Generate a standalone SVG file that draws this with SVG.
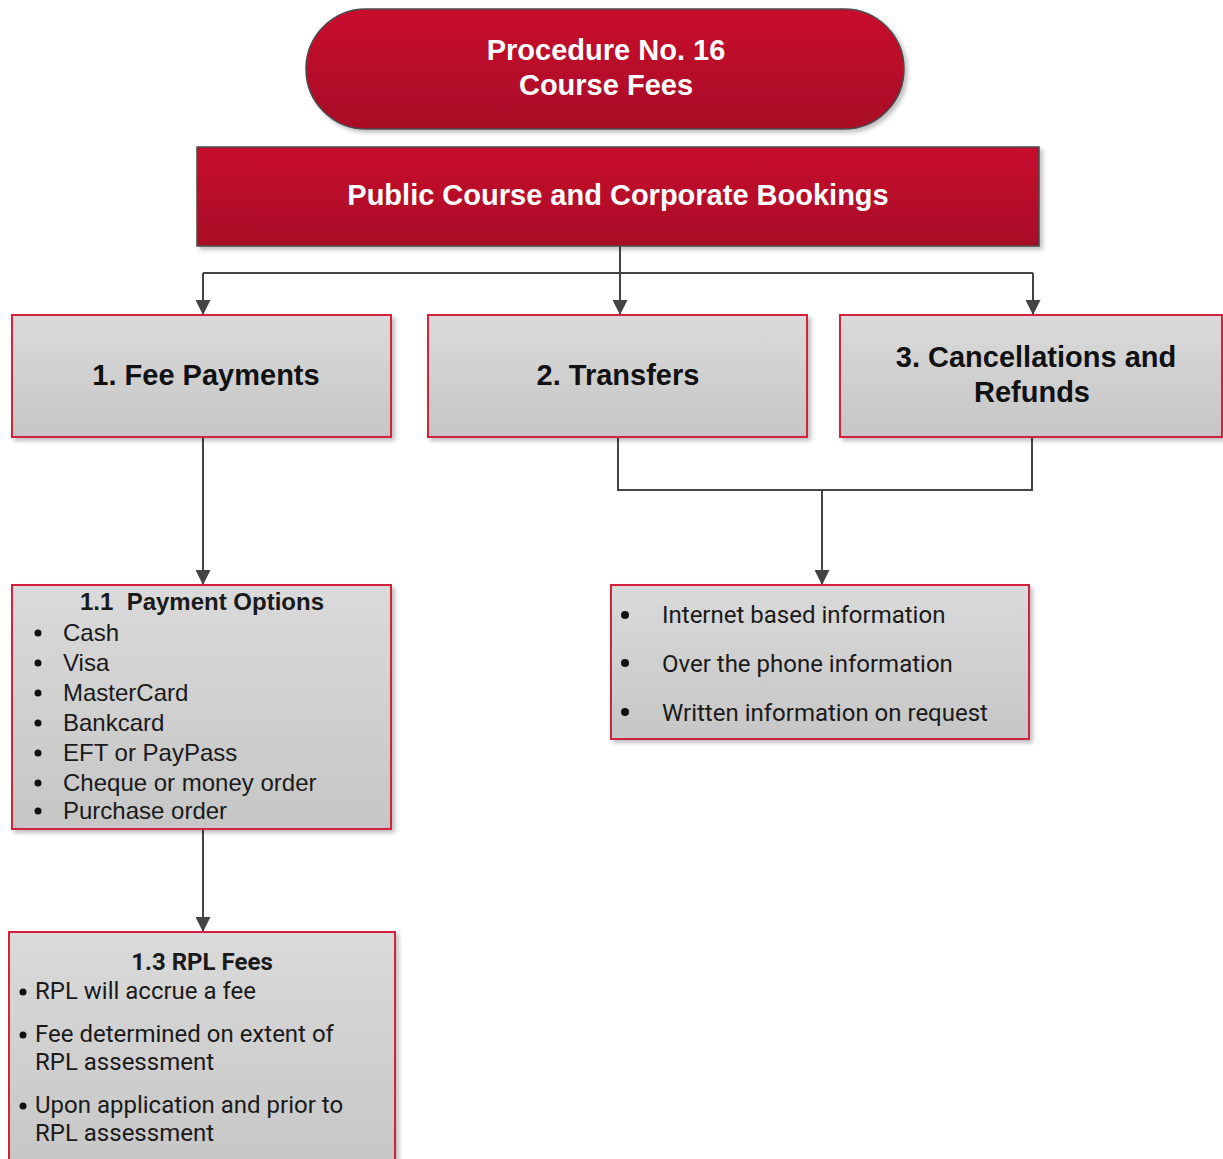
<svg xmlns="http://www.w3.org/2000/svg" width="1223" height="1159" viewBox="0 0 1223 1159">
<defs>
<linearGradient id="red" x1="0" y1="0" x2="0" y2="1">
<stop offset="0" stop-color="#c8102e"/>
<stop offset="1" stop-color="#a80d27"/>
</linearGradient>
<linearGradient id="gray" x1="0" y1="0" x2="0" y2="1">
<stop offset="0" stop-color="#dadada"/>
<stop offset="1" stop-color="#c6c6c6"/>
</linearGradient>
<filter id="sh" x="-5%" y="-5%" width="115%" height="120%">
<feDropShadow dx="3" dy="3" stdDeviation="2" flood-color="#000" flood-opacity="0.25"/>
</filter>
<marker id="arr" markerUnits="userSpaceOnUse" markerWidth="15" markerHeight="15" refX="15" refY="7.5" orient="auto" viewBox="0 0 15 15">
<path d="M0,0 L15,7.5 L0,15 Z" fill="#444"/>
</marker>
</defs>
<style>
.redbox{fill:url(#red);stroke:#4a4a4a;stroke-width:1.5;filter:url(#sh)}
.graybox{fill:url(#gray);stroke:#d2233c;stroke-width:2;filter:url(#sh)}
.wt{font-family:"Liberation Sans",Arial,sans-serif;font-weight:bold;fill:#fff;text-anchor:middle}
.bt{font-family:"Liberation Sans",Arial,sans-serif;font-weight:bold;fill:#111;text-anchor:middle;font-size:29px}
.lt{font-family:"Liberation Sans",Arial,sans-serif;fill:#1a1a1a;font-size:24px}
.rt{font-family:Roboto,"Liberation Sans",sans-serif;fill:#1a1a1a;font-size:24px}
.con{fill:none;stroke:#444;stroke-width:2}
.dot{fill:#111}
</style>
<g id="connectors">
<path class="con" d="M620 246 V273 M203 273 H1033"/>
<path class="con" d="M203 273 V315" marker-end="url(#arr)"/>
<path class="con" d="M620 273 V315" marker-end="url(#arr)"/>
<path class="con" d="M1033 273 V315" marker-end="url(#arr)"/>
<path class="con" d="M203 437 V585" marker-end="url(#arr)"/>
<path class="con" d="M203 829 V932" marker-end="url(#arr)"/>
<path class="con" d="M618 437 V490 H1032 V437"/>
<path class="con" d="M822 490 V585" marker-end="url(#arr)"/>
</g>
<g id="procedure">
<rect class="redbox" x="306" y="9" width="598" height="120" rx="60"/>
<text class="wt" x="606" y="60" font-size="29">Procedure No. 16</text>
<text class="wt" x="606" y="95" font-size="29">Course Fees</text>
</g>
<g id="bookings">
<rect class="redbox" x="197" y="147" width="842" height="99"/>
<text class="wt" x="618" y="205" font-size="29">Public Course and Corporate Bookings</text>
</g>
<g id="fee-payments">
<rect class="graybox" x="12" y="315" width="379" height="122"/>
<text class="bt" x="206" y="385">1. Fee Payments</text>
</g>
<g id="transfers">
<rect class="graybox" x="428" y="315" width="379" height="122"/>
<text class="bt" x="618" y="385">2. Transfers</text>
</g>
<g id="cancellations">
<rect class="graybox" x="840" y="315" width="382" height="122"/>
<text class="bt" x="1036" y="367">3. Cancellations and</text>
<text class="bt" x="1032" y="402">Refunds</text>
</g>
<g id="payment-options">
<rect class="graybox" x="12" y="585" width="379" height="244"/>
<text class="lt" x="202" y="610" font-weight="bold" text-anchor="middle">1.1&#160; Payment Options</text>
<circle class="dot" cx="38" cy="633" r="3.5"/>
<circle class="dot" cx="38" cy="663" r="3.5"/>
<circle class="dot" cx="38" cy="693" r="3.5"/>
<circle class="dot" cx="38" cy="723" r="3.5"/>
<circle class="dot" cx="38" cy="753" r="3.5"/>
<circle class="dot" cx="38" cy="783" r="3.5"/>
<circle class="dot" cx="38" cy="811" r="3.5"/>
<text class="lt" x="63" y="641">Cash</text>
<text class="lt" x="63" y="671">Visa</text>
<text class="lt" x="63" y="701">MasterCard</text>
<text class="lt" x="63" y="731">Bankcard</text>
<text class="lt" x="63" y="761">EFT or PayPass</text>
<text class="lt" x="63" y="791">Cheque or money order</text>
<text class="lt" x="63" y="819">Purchase order</text>
</g>
<g id="information">
<rect class="graybox" x="611" y="585" width="418" height="154"/>
<circle class="dot" cx="625" cy="615" r="4"/>
<circle class="dot" cx="625" cy="663" r="4"/>
<circle class="dot" cx="625" cy="712" r="4"/>
<text class="rt" x="662" y="623">Internet based information</text>
<text class="rt" x="662" y="672">Over the phone information</text>
<text class="rt" x="662" y="721">Written information on request</text>
</g>
<g id="rpl-fees">
<rect class="graybox" x="9" y="932" width="386" height="240"/>
<text class="rt" x="202" y="970" font-weight="bold" text-anchor="middle">1.3 RPL Fees</text>
<circle class="dot" cx="23" cy="992" r="3.5"/>
<circle class="dot" cx="23" cy="1035" r="3.5"/>
<circle class="dot" cx="23" cy="1106" r="3.5"/>
<text class="rt" x="35" y="999">RPL will accrue a fee</text>
<text class="rt" x="35" y="1042">Fee determined on extent of</text>
<text class="rt" x="35" y="1070">RPL assessment</text>
<text class="rt" x="35" y="1113">Upon application and prior to</text>
<text class="rt" x="35" y="1141">RPL assessment</text>
</g>
</svg>
